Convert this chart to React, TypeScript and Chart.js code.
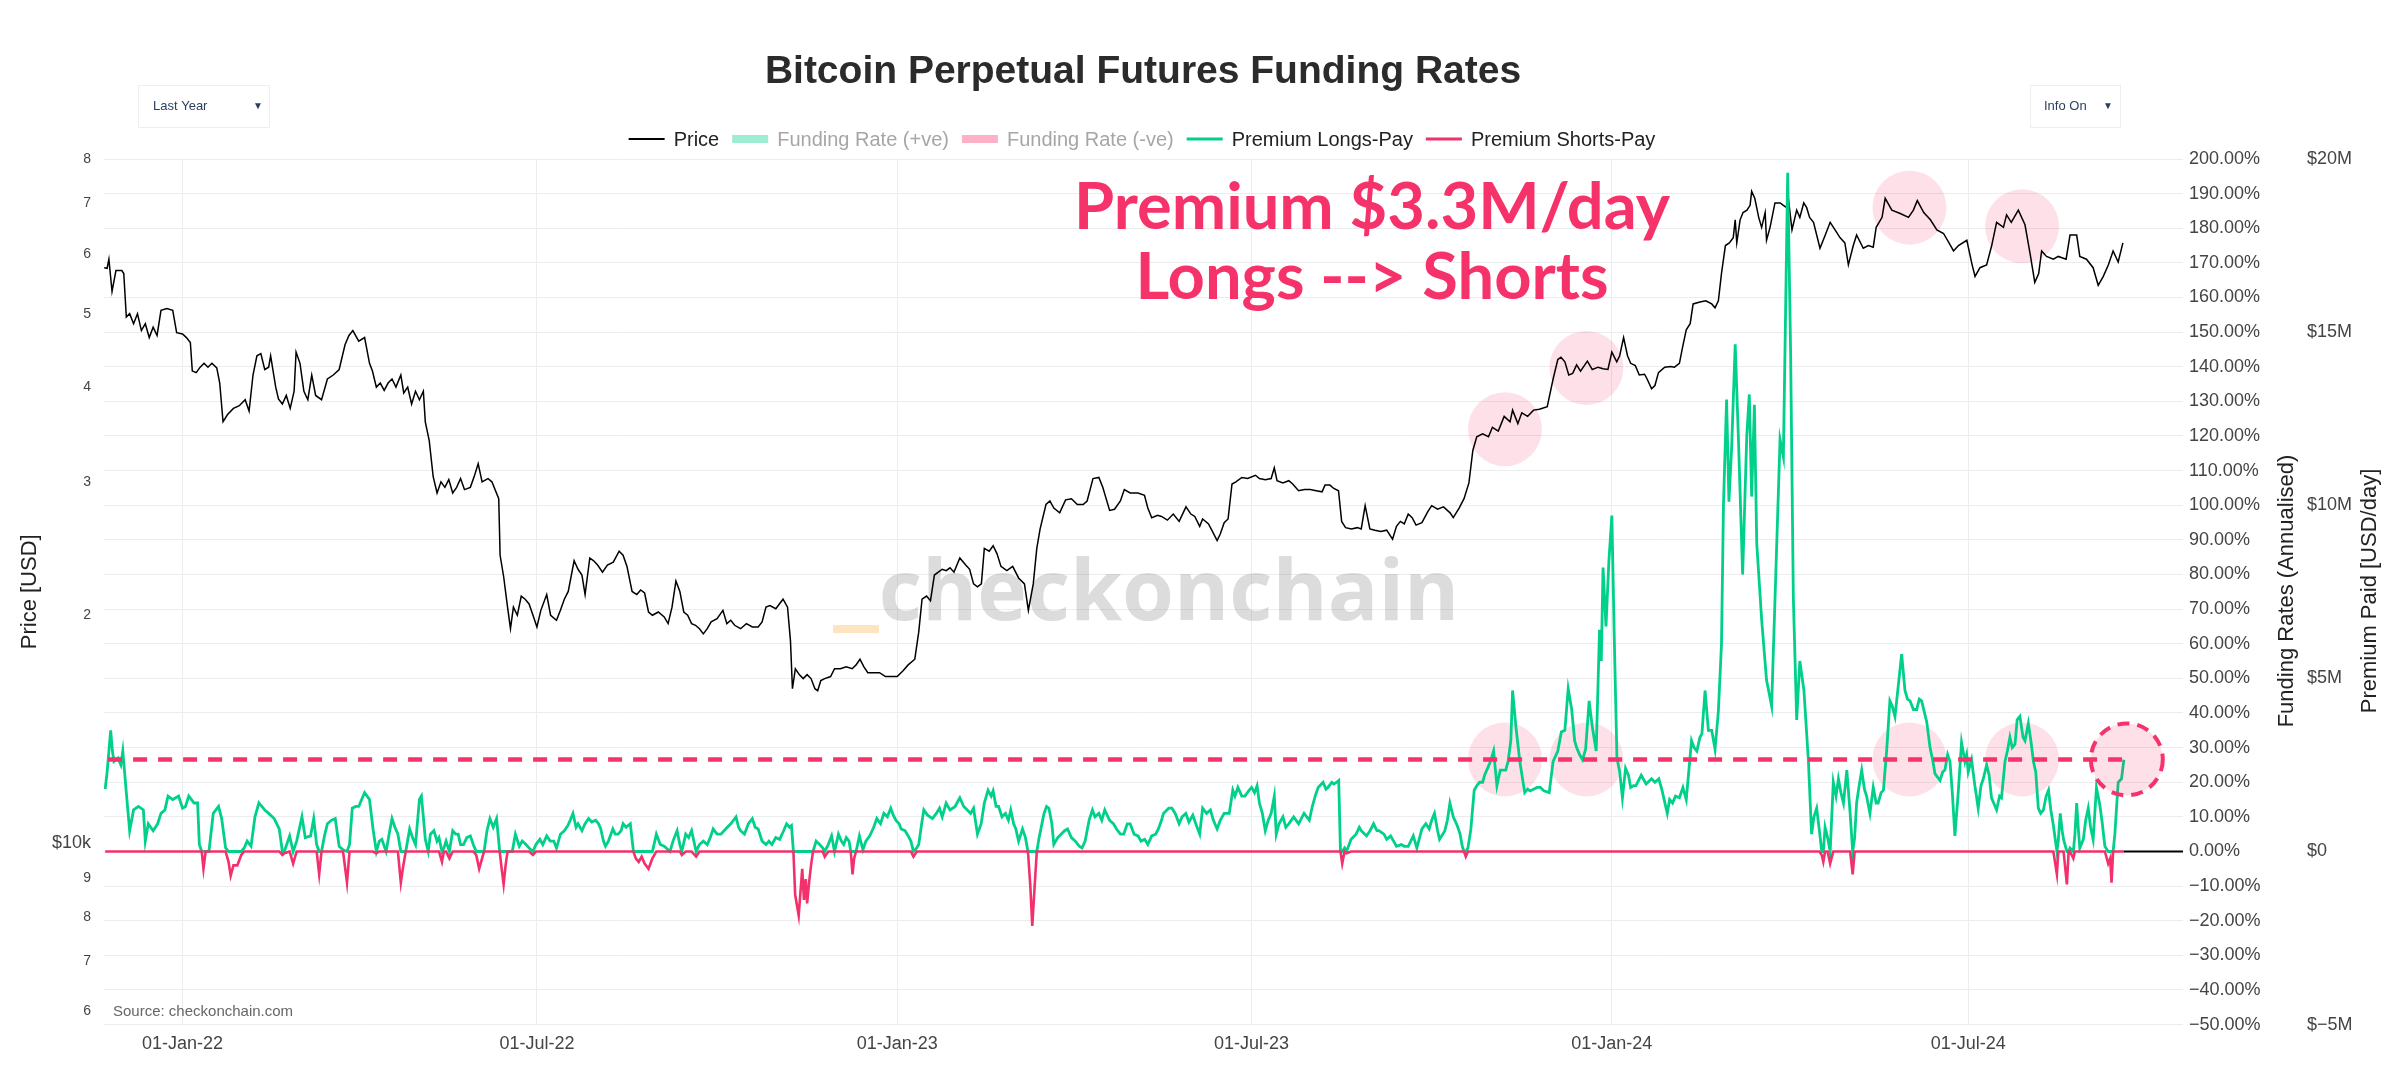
import React, { useEffect, useRef } from 'react';
import { Chart, registerables } from 'chart.js';

Chart.register(...registerables);

// ---------------- text ----------------
const TITLE = 'Bitcoin Perpetual Futures Funding Rates';
const SOURCE = 'Source: checkonchain.com';
const WATERMARK = 'checkonchain';
const CALLOUT = ['Premium $3.3M/day', 'Longs --> Shorts'];

// ---------------- x axis (days since 01-Jan-2022) ----------------
const X_MIN = -40.1;
const X_MAX = 1021.7;
const xTickDays = [0, 181, 365, 546, 730, 912];
const xTickLabels = ['01-Jan-22', '01-Jul-22', '01-Jan-23', '01-Jul-23', '01-Jan-24', '01-Jul-24'];

// ---------------- price axis (log) ----------------
const PRICE_MIN = 5766;
const PRICE_MAX = 80000;
const priceTicks = [6000, 7000, 8000, 9000, 10000, 20000, 30000, 40000, 50000, 60000, 70000, 80000];

// ---------------- right axes ----------------
const fundingTicksRange = [-50, 200];
const premiumRangeM = [-5, 20];

// ---------------- BTC price readings: [day, USD] ----------------
const priceReadings: [number, number][] = [
  [-40, 57500], [-38.5, 57400], [-37.6, 59000], [-36, 53500], [-34, 57000], [-31, 57000], [-30, 56500], [-28.7, 49500],
  [-27, 50000], [-25, 48500], [-23, 50000], [-21, 47500], [-19, 48500], [-17, 46500], [-15, 48000], [-13, 46800],
  [-11, 50500], [-8, 50800], [-5, 50500], [-3, 47200], [0, 47000], [2, 46500], [4, 45800], [5, 42000],
  [7, 41800], [9, 42500], [11, 43000], [13, 42500], [15, 43000], [17.5, 42400], [19, 40500], [20.7, 36000],
  [23, 36800], [26, 37500], [29, 37800], [32, 38500], [34, 37200], [36, 41500], [38, 44000], [40, 44300],
  [42, 42200], [44, 42500], [45, 44000], [47.6, 40000], [49, 38600], [51, 38000], [53, 39000], [55, 37500],
  [57, 39500], [58, 44500], [60, 43000], [62, 39500], [64, 38500], [66, 41500], [68, 39000], [71, 38500],
  [74, 41000], [77, 41500], [80, 42200], [83, 45500], [85, 46800], [87, 47500], [90, 46000], [93, 46500],
  [95.5, 43000], [97, 42000], [99, 40000], [101, 40500], [103, 39600], [105, 40500], [107, 41000], [109, 40000],
  [111.5, 41500], [113, 39300], [115, 40000], [117, 38000], [119, 39500], [121, 38500], [123, 39500], [124, 36000],
  [126, 34000], [128, 30500], [130, 29000], [132, 30000], [134, 29500], [136, 30200], [138, 29000], [140, 29500],
  [142, 30300], [144, 29300], [147, 29500], [149, 30500], [151, 31700], [153, 30000], [156, 30300], [158, 30000],
  [161.5, 28500], [162.2, 24000], [164, 22500], [166, 20500], [167.5, 19200], [169, 20500], [171, 20000], [173, 21200],
  [175, 21000], [177, 20700], [179, 20000], [181, 19300], [183, 20300], [186, 21300], [188, 20000], [191, 19700],
  [193, 20300], [195, 21000], [197, 21500], [200, 23600], [202, 23000], [204, 22600], [205.6, 21300], [208, 23800],
  [210, 23600], [212, 23300], [214.5, 22800], [217, 23300], [220, 23500], [223, 24300], [225, 24000], [227, 23200],
  [229.6, 21500], [232, 21300], [234, 21600], [236, 21400], [238, 20200], [240, 20000], [243, 20200], [246, 19900],
  [248, 19500], [250, 20500], [252, 22200], [254, 21500], [256, 20200], [258, 20000], [260, 19500], [262, 19400],
  [264, 19200], [266, 18900], [268, 19200], [270, 19600], [273, 19800], [276, 20300], [278, 19500], [280, 19700],
  [282, 19400], [285, 19200], [288, 19500], [291, 19300], [294, 19300], [296, 19600], [298, 20500], [300, 20600],
  [303, 20400], [306.7, 21000], [309, 20500], [310.5, 18500], [311.5, 16000], [313, 17000], [315, 16700], [317, 16500],
  [319, 16700], [321, 16500], [323, 16000], [324.4, 15900], [326, 16400], [328, 16500], [331, 16600], [333, 17000],
  [336, 17000], [339, 17100], [342, 17000], [344, 17200], [346, 17500], [348, 17100], [350, 16800], [353, 16800],
  [356, 16800], [359, 16600], [362, 16600], [365, 16600], [368, 16900], [370.6, 17200], [374, 17500], [376, 19000],
  [377.7, 21000], [380, 21200], [382, 20900], [384, 22600], [386, 22800], [388, 23000], [390, 22900], [392, 23100],
  [394, 22800], [397, 23800], [400, 23300], [402, 23000], [404, 22000], [406, 21800], [408, 22000], [409.5, 24500],
  [412, 24300], [414, 24700], [416, 24100], [418, 23200], [421, 22900], [424, 23200], [427, 22400], [430, 22000],
  [432, 20300], [434.5, 22000], [436.3, 24500], [438, 26000], [441, 28000], [443, 28300], [445, 27700], [448, 27300],
  [451, 28400], [454, 28500], [457, 28000], [460, 28000], [462, 28300], [465, 30300], [468, 30400], [470, 29500],
  [473.5, 27500], [476, 27600], [479, 28300], [481, 29300], [484, 29000], [488, 29000], [491.3, 28800], [493, 27700],
  [495, 26900], [498, 27100], [500, 27000], [503, 26700], [506, 27200], [509, 26600], [512.5, 27800], [515, 27200],
  [517, 27000], [519.5, 26200], [521, 26800], [524, 26400], [526, 25800], [528.4, 25100], [530, 25600], [532, 26500],
  [534, 26800], [536, 29800], [538, 30000], [541, 30400], [544, 30300], [548, 30600], [550, 30300], [553, 30200],
  [556, 30300], [557.6, 31300], [559, 30100], [562, 29900], [565, 30100], [567, 29800], [570, 29200], [573, 29300],
  [576, 29300], [579, 29200], [582, 29100], [583.5, 29700], [586, 29700], [588, 29400], [590.4, 29200], [592, 26600],
  [594, 26100], [597, 26000], [600, 26100], [602, 26000], [604, 27900], [606.4, 26000], [609, 25900], [612, 25800],
  [615, 25900], [618, 25200], [620, 26200], [622, 26600], [624, 26400], [626, 27200], [628, 26900], [630, 26300],
  [633, 26500], [636, 27400], [638, 27900], [641, 27600], [644, 27800], [647.4, 27300], [649, 26900], [652, 27700],
  [654.5, 28500], [657, 29900], [659, 33000], [661, 34400], [664, 34700], [667, 34400], [669, 35400], [672, 35000],
  [675, 36600], [678, 36000], [679.3, 37300], [682, 35800], [684, 37000], [687, 36600], [690, 37300], [693, 37400],
  [697, 37700], [700, 41000], [702.4, 43500], [704, 43800], [706, 43200], [708, 41500], [710, 41700], [712, 42800],
  [714, 42000], [717.5, 43300], [720, 42200], [723, 42500], [725.5, 42300], [728, 42200], [730, 44500], [732.5, 43200],
  [734, 44000], [736, 46500], [738, 44000], [739.6, 43000], [742, 42700], [744, 41500], [746.7, 41600], [748, 41000],
  [750.3, 39800], [752, 40200], [753.8, 41800], [757, 42500], [760, 42600], [762, 42500], [764.5, 43000], [766, 45000],
  [768, 47600], [770, 48500], [771.5, 51500], [775, 51800], [778, 52000], [781, 51500], [782.7, 50900], [784.4, 52000],
  [786, 56500], [788, 61500], [790, 62000], [792, 63000], [793, 66500], [793.8, 62000], [795.5, 66500], [797, 68000],
  [799, 68500], [800.6, 69500], [801.4, 72500], [803, 71000], [805, 67000], [806.5, 65000], [808.3, 68000], [809, 62500],
  [810.8, 65000], [813.3, 70000], [816, 70000], [817.6, 69500], [819.3, 69000], [820, 71500], [822, 64500], [824.4, 68500],
  [826, 67000], [828, 70000], [829.5, 69000], [831, 67000], [833, 66000], [836.3, 61000], [839, 63500], [841.5, 66000],
  [844, 64500], [846.5, 63000], [849, 62000], [850.8, 58000], [853.3, 61500], [855, 63500], [858.4, 61000], [861, 61500],
  [863.5, 61200], [865, 65000], [868, 67000], [869.6, 71000], [873, 68500], [877.3, 67800], [881.5, 67000], [884, 68500],
  [886, 70500], [889.3, 68000], [892.7, 66500], [896, 64500], [899.4, 63800], [903, 61500], [904.5, 60500], [907, 61500],
  [911.3, 62500], [914, 58000], [915.5, 56000], [918, 57500], [921.4, 58000], [924, 61500], [926.5, 66000], [930, 65000],
  [931.6, 67500], [934, 66000], [937.6, 68500], [941, 65500], [943.6, 60000], [946, 55000], [948, 56500], [949.5, 60500],
  [952, 59500], [955.5, 59000], [958, 59500], [962, 59000], [964, 63500], [967.4, 63500], [969, 59500], [972.4, 59000],
  [975.8, 57500], [978.4, 54500], [981, 56000], [983.6, 58000], [986, 60500], [988.6, 58500], [991, 62000],
];

// ---------------- premium paid ($M/day) readings: [day, value] ----------------
const premiumReadings: [number, number][] = [
  [-39.5, 1.8], [-38.5, 2.3], [-36.7, 3.5], [-35.8, 2.9], [-35, 2.6], [-33, 2.7], [-31.5, 2.5], [-30.5, 2.9],
  [-28.7, 1.7], [-27, 0.6], [-25, 1.2], [-22.5, 1.3], [-20, 1.2], [-19, 0.3], [-17.5, 0.8], [-15, 0.6],
  [-12.7, 0.8], [-11, 1.1], [-9, 1.2], [-7.4, 1.6], [-5, 1.5], [-2, 1.6], [0, 1.25], [1.5, 1.3],
  [3.2, 1.6], [5.9, 1.4], [7.7, 1.4], [8.6, 0.2], [9.8, 0], [10.7, -0.5], [11.8, 0], [13.5, 0],
  [15.7, 1.1], [18.4, 1.3], [20, 0.95], [22, 0.1], [23.5, -0.3], [24.6, -0.7], [26, -0.4], [28, -0.4],
  [30, -0.1], [31.5, 0.1], [33, 0.3], [35, 0.15], [37, 1.0], [39, 1.4], [40.5, 1.3], [42, 1.2],
  [44, 1.1], [46.8, 0.95], [49.4, 0.65], [51, -0.1], [52, -0.05], [54.7, 0.45], [56.5, -0.35], [58.3, 0.3],
  [61, 1.0], [62.7, 0.4], [65.4, 0.45], [67, 0.95], [68.5, 0.2], [69.8, -0.66], [71, 0], [72.5, 0.45],
  [74, 0.8], [76, 0.9], [78, 0.95], [80, 0.15], [82, 0.05], [84, -0.9], [85.3, 0.2], [86.7, 1.25],
  [88.5, 1.3], [90, 1.3], [91.5, 1.5], [93, 1.7], [95.5, 1.5], [97.3, 0.65], [99, -0.05], [100.5, 0.3],
  [101.8, 0.35], [104, 0], [105.5, 0.5], [107, 0.95], [108.5, 0.7], [110, 0.5], [111.5, -0.9], [112.5, -0.5],
  [114, 0], [116, 0.65], [117.5, 0.4], [119, 0.2], [121, 1.5], [122, 1.6], [123, 1.0], [124, 0.35],
  [125.5, 0], [126.6, 0.5], [128.4, 0.6], [130, 0.3], [131, 0.4], [132.5, -0.3], [133.5, 0.1], [134.6, 0.3],
  [136.3, -0.2], [138, 0.6], [139.5, 0.5], [140.8, 0.5], [142, 0.2], [143.5, 0.2], [145.2, 0.4], [147, 0.45],
  [148.5, 0.2], [150, -0.1], [151.5, -0.5], [153, -0.2], [154, 0], [155.5, 0.6], [157, 0.95], [158.7, 0.7],
  [160.4, 0.95], [162, 0], [163, -0.5], [164, -0.95], [165, -0.4], [166, 0], [168.4, 0], [170, 0.5],
  [172, 0.15], [173.5, 0.3], [175.4, 0.2], [177, 0.1], [179, -0.1], [180.5, 0.2], [182.5, 0.35], [184, 0.2],
  [186, 0.45], [187.8, 0.3], [189.6, 0.3], [191, 0.1], [193, 0.5], [195, 0.6], [196.8, 0.75], [198, 0.9],
  [199.4, 1.1], [201, 0.7], [202, 0.8], [204, 0.6], [205.6, 0.8], [207.4, 0.95], [209, 0.85], [211, 0.9],
  [212.5, 0.8], [213.6, 0.65], [215, 0.3], [216, 0.15], [217.5, 0.3], [219.8, 0.65], [221, 0.5], [222.5, 0.5],
  [224, 0.6], [225, 0.8], [226.5, 0.7], [228.7, 0.8], [230.3, 0], [231.5, -0.2], [233, -0.3], [234.5, -0.15],
  [236, -0.35], [238, -0.5], [240, -0.2], [242, 0.5], [244, 0.2], [246, 0.15], [249, 0], [250.5, 0.3],
  [252.6, 0.6], [254, 0.2], [255, -0.1], [257, 0.5], [258.5, 0.4], [260, 0.6], [262.3, -0.15], [264, 0.2],
  [266, 0.3], [268, 0.2], [269.5, 0.4], [271, 0.65], [273, 0.5], [275, 0.5], [277.4, 0.65], [280, 0.8],
  [282.7, 1.0], [284, 0.7], [285, 0.6], [287, 0.5], [289, 0.8], [291, 0.95], [292.5, 0.7], [294, 0.65],
  [296, 0.3], [298, 0.2], [299.5, 0.3], [301, 0.2], [303, 0.4], [305, 0.35], [307, 0.6], [308.5, 0.8],
  [310, 0.7], [311, 0.75], [312, 0], [312.9, -1.25], [314.7, -1.85], [316.5, -0.5], [317.4, -1.4], [318.3, -0.8],
  [319, -1.5], [320, -0.9], [321, -0.4], [322, 0], [323.6, 0.3], [325.4, 0.2], [327, 0.1], [328, -0.15],
  [329.8, 0.2], [331.5, 0.45], [333, 0], [335, 0.5], [336.5, 0.3], [337.7, 0.2], [339, 0.4], [340.4, 0.3],
  [341.3, 0], [342.2, -0.66], [343, -0.2], [344, 0], [345.7, 0.45], [347.5, 0.05], [349, 0.3], [351, 0.45],
  [353, 0.7], [354.6, 0.95], [356.5, 0.8], [358.2, 1.1], [360, 1.0], [361.7, 1.25], [363, 1.05], [364.4, 0.9],
  [366, 0.8], [367, 0.65], [369, 0.6], [370.6, 0.45], [372, 0.3], [373.3, -0.15], [375, 0.1], [376, 0.2],
  [377.5, 0.8], [378.6, 1.2], [380.5, 1.05], [383, 0.95], [385, 1.1], [386.6, 1.25], [388, 1.0], [390, 1.4],
  [392, 1.2], [394.6, 1.3], [396, 1.45], [397, 1.55], [399, 1.3], [400.8, 1.2], [402.5, 1.1], [404, 1.25],
  [406, 0.5], [407.9, 0.8], [409.5, 1.4], [411.4, 1.77], [413, 1.6], [414, 1.75], [415.5, 1.3], [416.8, 1.3],
  [418.5, 1.0], [420.3, 1.1], [421.8, 0.9], [423, 1.2], [424.5, 0.8], [425.6, 0.65], [427, 0.3], [429, 0.65],
  [430.5, 0.4], [431.8, 0], [433, -1.0], [434, -2.15], [435, -1.2], [436.3, 0], [437.5, 0.4], [440, 1.1],
  [441.3, 1.3], [442.5, 1.25], [444, 0.8], [445, 0.2], [447, 0.4], [448.7, 0.5], [450.5, 0.6], [452, 0.65],
  [454, 0.4], [456, 0.3], [458, 0.15], [459.4, 0.1], [461, 0.3], [463, 0.9], [464.7, 1.2], [466, 1.0],
  [468, 1.1], [469.5, 0.9], [471, 1.2], [473.5, 0.9], [475.5, 0.8], [477, 0.65], [479, 0.5], [480.7, 0.5],
  [482.5, 0.8], [484, 0.8], [486, 0.5], [488, 0.45], [489.5, 0.3], [491.4, 0.35], [493, 0.2], [495, 0.45],
  [497, 0.5], [498.4, 0.65], [500, 0.9], [501, 1.1], [503.7, 1.25], [505.3, 1.25], [507, 1.1], [509, 0.8],
  [510.5, 1.0], [512.4, 1.1], [514, 0.85], [516, 1.05], [517.5, 0.8], [519.5, 0.5], [521, 1.25], [523, 1.1],
  [525, 1.2], [526.5, 0.9], [528.4, 0.65], [530, 0.9], [532, 1.1], [534.6, 1.1], [536.4, 1.77], [537.5, 1.6],
  [539, 1.85], [541, 1.6], [542.6, 1.6], [544.5, 1.75], [546, 1.85], [547.5, 1.7], [548.8, 1.9], [550, 1.4],
  [551.5, 1.1], [553, 0.6], [554.5, 0.9], [556, 1.1], [557.6, 1.6], [558.6, 0.5], [560, 0.8], [562, 1.0],
  [563.5, 0.7], [565, 0.8], [567.5, 1.0], [570, 0.8], [572.8, 1.1], [575.5, 0.9], [577, 1.3], [578.5, 1.6],
  [580, 1.85], [582.5, 2.0], [584, 1.8], [585, 1.85], [587, 2.0], [588, 1.95], [589.5, 2.0], [590.5, 2.05],
  [591.4, 0], [592.3, -0.35], [593.5, 0.1], [594.5, -0.05], [596.8, 0.35], [599.4, 0.5], [601, 0.7], [602, 0.6],
  [604.7, 0.45], [606.5, 0.6], [608.3, 0.8], [610, 0.6], [611, 0.6], [613.6, 0.5], [615, 0.35], [617, 0.45],
  [620, 0.15], [622.5, 0.2], [624, 0.15], [626, 0.15], [628.6, 0.45], [630.4, 0.1], [633, 0.65], [635, 0.8],
  [636.7, 0.65], [638, 0.9], [639.4, 1.1], [641, 0.6], [642, 0.35], [644.7, 0.6], [646, 0.9], [647.3, 1.4],
  [649, 1.0], [651, 0.75], [652.5, 0.5], [653.6, 0.15], [654.5, 0], [655.4, -0.15], [656.5, 0.1], [658, 0.65],
  [659.7, 1.77], [661, 1.9], [662.5, 2.0], [664, 2.0], [665, 2.2], [666.5, 2.4], [668, 2.6], [669.6, 2.9],
  [671.3, 1.9], [673, 2.35], [675.8, 2.35], [677, 2.6], [678.4, 3.2], [679.3, 4.65], [681, 3.6], [683, 2.6],
  [685.5, 1.7], [687, 1.8], [688.2, 1.75], [690, 1.8], [691.8, 1.85], [693.5, 1.85], [695.3, 1.75], [698, 1.7],
  [700, 2.6], [702.4, 2.9], [704.2, 3.45], [706, 3.5], [707.7, 4.7], [709.5, 4.1], [711, 3.2], [712, 3.0],
  [713.5, 2.8], [715, 2.65], [716.6, 2.95], [718.4, 4.35], [720, 3.6], [722, 2.9], [723.7, 6.4], [724.6, 5.5],
  [725.5, 8.2], [727, 6.5], [728.5, 8.4], [730, 9.7], [731.3, 6.0], [732.6, 2.7], [734, 2.3], [735.4, 1.55],
  [737, 2.4], [738.5, 2.2], [739.6, 1.85], [741, 1.9], [742.3, 1.9], [745, 2.2], [747.5, 1.95], [750.3, 2.1],
  [752, 2.0], [754, 2.1], [755.6, 1.77], [758.3, 1.1], [759.5, 1.5], [761, 1.4], [762.5, 1.6], [764.5, 1.55],
  [766.3, 1.85], [768, 1.5], [770.7, 3.2], [772, 3.0], [773.4, 2.9], [775, 3.3], [776, 3.4], [777.6, 4.65],
  [779.3, 3.5], [781, 3.5], [782.7, 2.95], [784.4, 4.05], [786, 6.0], [787, 10.0], [788.6, 13.05], [789.8, 10.1],
  [791.2, 11.7], [793, 14.65], [794.6, 12.0], [796.8, 8.0], [798.9, 12.0], [800.2, 13.2], [801.4, 10.25], [802.8, 12.9],
  [804, 8.9], [806.5, 6.7], [809, 4.95], [811.6, 4.2], [814, 8.5], [815.9, 11.9], [817.6, 11.4], [819, 16.6],
  [819.8, 19.6], [821.3, 14.4], [822.7, 7.3], [824.4, 3.8], [826, 5.5], [828.1, 4.65], [830.4, 2.6], [832, 0.5],
  [833.2, 1.0], [834.6, 1.25], [836, 0.6], [837.2, -0.1], [838, -0.3], [838.9, 0.7], [840.2, 0.4], [841.5, -0.35],
  [843.1, 2.0], [844.5, 1.6], [845.7, 2.1], [847, 1.7], [848.3, 1.4], [850, 2.35], [851.7, 1.1], [853, -0.66],
  [854, 0.4], [855, 1.4], [856.3, 1.9], [857.6, 2.35], [859, 1.8], [860.1, 1.6], [861.8, 1.1], [863.5, 1.85],
  [865, 1.4], [866, 1.4], [867.5, 1.7], [868.7, 1.77], [870.4, 2.95], [872, 4.35], [873.2, 4.2], [874.6, 3.9],
  [876.3, 4.8], [878, 5.7], [879.7, 4.65], [881, 4.4], [882.3, 4.35], [884, 4.1], [885.7, 4.1], [887, 4.4],
  [888.2, 4.35], [890.8, 3.75], [892.5, 3.0], [894, 2.6], [895, 2.25], [897.6, 2.05], [899, 2.3], [900.1, 2.35],
  [901.5, 2.8], [902.7, 2.6], [904, 1.6], [905.2, 0.45], [906.9, 1.7], [908.6, 3.15], [910.3, 2.6], [911.2, 2.8],
  [912, 2.3], [913.7, 2.65], [915.4, 1.9], [917.1, 1.25], [918.5, 1.9], [919.7, 2.1], [921.4, 2.5], [922.7, 2.2],
  [923.9, 1.55], [925, 1.4], [926.5, 1.2], [928, 1.6], [929, 1.55], [930.8, 2.6], [932, 2.9], [933.3, 3.3],
  [934.5, 3.0], [935.9, 3.1], [937, 3.8], [938.4, 3.9], [940, 3.3], [941, 3.2], [942.7, 3.7], [944, 3.2],
  [945.3, 2.6], [946.5, 2.3], [947.8, 1.25], [949, 1.1], [950.4, 1.2], [951.8, 1.6], [953, 1.77], [954.2, 1.2],
  [955.5, 0.75], [957.3, -0.66], [958, 0.3], [959, 1.1], [960, 0.6], [960.7, 0.35], [962.4, -0.95], [963.3, 0],
  [964, 0.1], [965.7, -0.2], [966.5, 0.5], [967.4, 1.4], [968.3, 0.6], [969, 0.1], [970.8, 0.35], [972, 0.9],
  [973.3, 1.25], [974.5, 0.7], [975.8, 0.35], [977.5, 1.85], [979.2, 1.35], [980.5, 0.8], [981.8, 0.15], [983.5, -0.35],
  [984.5, -0.2], [985.2, -0.9], [986, 0], [986.9, 0.5], [988.6, 2.0], [990.3, 2.1], [991.5, 2.65],
];

// ---------------- annotations ----------------
const PREMIUM_REFERENCE_M = 2.66;
const highlightDays = [675.4, 717, 882, 939.5];
const highlightPrices = [35200, 42400, 69000, 65200];
const CURRENT_DAY = 993;
const DASH_START_DAY = -38;
const DASH_END_DAY = 991;

// ---------------- styles ----------------
const GREEN = '#00d08a';
const PINK = '#f2306b';
const ANNOT = '#f6326b';
const FONT = '"Liberation Sans", Arial, Helvetica, sans-serif';
const GRID = '#ececec';

const legendItems = [
  { label: 'Price', color: '#000000', lw: 2, text: '#222222' },
  { label: 'Funding Rate (+ve)', color: 'rgba(0,208,138,0.38)', lw: 8, text: '#a6a6a6' },
  { label: 'Funding Rate (-ve)', color: 'rgba(246,50,107,0.38)', lw: 8, text: '#a6a6a6' },
  { label: 'Premium Longs-Pay', color: GREEN, lw: 3, text: '#222222' },
  { label: 'Premium Shorts-Pay', color: PINK, lw: 3, text: '#222222' },
];

function vText(ctx: CanvasRenderingContext2D, text: string, x: number, y: number) {
  ctx.save();
  ctx.translate(x, y);
  ctx.rotate(-Math.PI / 2);
  ctx.textAlign = 'center';
  ctx.textBaseline = 'middle';
  ctx.fillText(text, 0, 0);
  ctx.restore();
}

function dropdown(ctx: CanvasRenderingContext2D, x: number, y: number, w: number, h: number, label: string, tx: number, ax: number) {
  ctx.save();
  ctx.fillStyle = '#ffffff';
  ctx.strokeStyle = '#eeeeee';
  ctx.lineWidth = 1;
  ctx.fillRect(x, y, w, h);
  ctx.strokeRect(x + 0.5, y + 0.5, w, h);
  ctx.fillStyle = '#2a3f5f';
  ctx.font = `13px ${FONT}`;
  ctx.textAlign = 'left';
  ctx.textBaseline = 'middle';
  ctx.fillText(label, tx, y + h / 2);
  ctx.font = `10px ${FONT}`;
  ctx.textAlign = 'center';
  ctx.fillText('\u25BC', ax, y + h / 2);
  ctx.restore();
}

const overlay = {
  id: 'overlay',
  beforeDatasetsDraw(chart: any) {
    const { ctx, scales } = chart;
    const x = scales.x, yp = scales.price, ym = scales.prem;
    ctx.save();
    ctx.font = `700 84px "Open Sans", ${FONT}`;
    ctx.fillStyle = 'rgba(140,140,140,0.3)';
    ctx.textAlign = 'center';
    ctx.textBaseline = 'alphabetic';
    ctx.fillText(WATERMARK, 1169, 620);
    ctx.fillStyle = '#fde5c2';
    ctx.fillRect(833, 625, 46, 8);
    ctx.fillStyle = 'rgba(246,50,107,0.15)';
    highlightDays.forEach((d, i) => {
      const cx = x.getPixelForValue(d);
      [yp.getPixelForValue(highlightPrices[i]), ym.getPixelForValue(PREMIUM_REFERENCE_M)].forEach((cy: number) => {
        ctx.beginPath();
        ctx.arc(cx, cy, 37, 0, Math.PI * 2);
        ctx.fill();
      });
    });
    ctx.restore();
  },
  afterDatasetsDraw(chart: any) {
    const { ctx, scales, chartArea } = chart;
    const x = scales.x, ym = scales.prem;
    const yT = ym.getPixelForValue(PREMIUM_REFERENCE_M);
    ctx.save();
    ctx.strokeStyle = ANNOT;
    ctx.lineWidth = 4.5;
    ctx.setLineDash([14, 11]);
    ctx.beginPath();
    ctx.moveTo(x.getPixelForValue(DASH_START_DAY), yT);
    ctx.lineTo(x.getPixelForValue(DASH_END_DAY), yT);
    ctx.stroke();
    ctx.setLineDash([12, 8]);
    ctx.lineWidth = 4;
    ctx.fillStyle = 'rgba(246,50,107,0.15)';
    ctx.beginPath();
    ctx.arc(x.getPixelForValue(CURRENT_DAY), yT, 36, 0, Math.PI * 2);
    ctx.fill();
    ctx.stroke();
    ctx.setLineDash([]);
    const lastDay = premiumReadings[premiumReadings.length - 1][0];
    const y0 = ym.getPixelForValue(0);
    ctx.strokeStyle = '#000000';
    ctx.lineWidth = 2;
    ctx.beginPath();
    ctx.moveTo(x.getPixelForValue(lastDay), y0);
    ctx.lineTo(chartArea.right, y0);
    ctx.stroke();
    ctx.restore();
  },
  afterDraw(chart: any) {
    const { ctx } = chart;
    ctx.save();
    ctx.font = `bold 39px ${FONT}`;
    ctx.fillStyle = '#2b2b2b';
    ctx.textAlign = 'center';
    ctx.textBaseline = 'alphabetic';
    ctx.fillText(TITLE, 1143, 83);
    ctx.font = `20px ${FONT}`;
    const sw = 36, gap = 9, itemGap = 13;
    const widths = legendItems.map((it) => ctx.measureText(it.label).width);
    const total = widths.reduce((a, b) => a + b, 0) + legendItems.length * (sw + gap) + (legendItems.length - 1) * itemGap;
    let lx = 1142 - total / 2;
    const ly = 139;
    legendItems.forEach((it, i) => {
      ctx.strokeStyle = it.color;
      ctx.lineWidth = it.lw;
      ctx.beginPath();
      ctx.moveTo(lx, ly);
      ctx.lineTo(lx + sw, ly);
      ctx.stroke();
      ctx.fillStyle = it.text;
      ctx.textAlign = 'left';
      ctx.textBaseline = 'middle';
      ctx.fillText(it.label, lx + sw + gap, ly + 1);
      lx += sw + gap + widths[i] + itemGap;
    });
    dropdown(ctx, 138, 85, 131, 42, 'Last Year', 153, 258);
    dropdown(ctx, 2030, 85, 90, 42, 'Info On', 2044, 2108);
    ctx.font = `22px ${FONT}`;
    ctx.fillStyle = '#222222';
    vText(ctx, 'Funding Rates (Annualised)', 2287, 591);
    vText(ctx, 'Premium Paid [USD/day]', 2370, 591);
    ctx.font = `15px ${FONT}`;
    ctx.fillStyle = '#666666';
    ctx.textAlign = 'left';
    ctx.textBaseline = 'middle';
    ctx.fillText(SOURCE, 113, 1012);
    ctx.font = `700 65px Lato, "Open Sans", ${FONT}`;
    ctx.fillStyle = ANNOT;
    ctx.textAlign = 'center';
    ctx.textBaseline = 'alphabetic';
    ctx.fillText(CALLOUT[0], 1372, 229);
    ctx.fillText(CALLOUT[1], 1372, 299);
    ctx.restore();
  },
};

function fmtPct(v: number) {
  return (v < 0 ? '\u2212' : '') + Math.abs(v).toFixed(2) + '%';
}
function fmtPrem(v: number) {
  if (v === 0) return '$0';
  return '$' + (v < 0 ? '\u2212' : '') + Math.abs(v) + 'M';
}
function fmtPrice(v: number) {
  if (v === 10000) return '$10k';
  return String(Math.round(v < 10000 ? v / 1000 : v / 10000));
}

export default function App() {
  const ref = useRef<HTMLCanvasElement>(null);
  useEffect(() => {
    document.body.style.margin = '0';
    document.body.style.overflow = 'hidden';
    Chart.defaults.font.family = FONT;
    const priceData = priceReadings.map(([d, p]) => ({ x: d, y: p }));
    const longs = premiumReadings.map(([d, v]) => ({ x: d, y: Math.max(v, 0) }));
    const shorts = premiumReadings.map(([d, v]) => ({ x: d, y: Math.min(v, 0) }));
    const chart = new Chart(ref.current as HTMLCanvasElement, {
      type: 'line',
      data: {
        datasets: [
          { label: 'Price', data: priceData, yAxisID: 'price', borderColor: '#000000', borderWidth: 1.5, pointRadius: 0, order: 3 },
          { label: 'Premium Longs-Pay', data: longs, yAxisID: 'prem', borderColor: GREEN, borderWidth: 2.8, pointRadius: 0, order: 2 },
          { label: 'Premium Shorts-Pay', data: shorts, yAxisID: 'prem', borderColor: PINK, borderWidth: 2.6, pointRadius: 0, order: 1 },
        ],
      },
      options: {
        animation: false,
        responsive: false,
        devicePixelRatio: 1,
        events: [],
        layout: { padding: { top: 159, left: 0, right: 0, bottom: 0 } },
        plugins: { legend: { display: false }, title: { display: false }, tooltip: { enabled: false } },
        scales: {
          x: {
            type: 'linear',
            position: 'bottom',
            min: X_MIN,
            max: X_MAX,
            afterBuildTicks: (s: any) => { s.ticks = xTickDays.map((v) => ({ value: v })); },
            afterFit: (s: any) => { s.height = 46.4; },
            ticks: {
              callback: (v: any) => { const i = xTickDays.indexOf(Number(v)); return i >= 0 ? xTickLabels[i] : ''; },
              font: { size: 18 },
              color: '#444444',
              padding: 9,
              autoSkip: false,
              maxRotation: 0,
            },
            grid: { color: GRID, drawTicks: false },
            border: { display: false },
          },
          price: {
            type: 'logarithmic',
            position: 'left',
            min: PRICE_MIN,
            max: PRICE_MAX,
            afterBuildTicks: (s: any) => { s.ticks = priceTicks.map((v) => ({ value: v })); },
            afterFit: (s: any) => { s.width = 104; },
            ticks: {
              callback: (v: any) => fmtPrice(Number(v)),
              font: (c: any) => ({ size: c.tick && c.tick.value === 10000 ? 18 : 14 }),
              color: '#444444',
              padding: 5,
              autoSkip: false,
            },
            grid: { display: false },
            border: { display: false },
            title: { display: true, text: 'Price [USD]', font: { size: 22 }, color: '#222222', padding: { top: 17, bottom: 0 } },
          },
          fund: {
            type: 'linear',
            position: 'right',
            min: fundingTicksRange[0],
            max: fundingTicksRange[1],
            afterFit: (s: any) => { s.width = 113; },
            ticks: { stepSize: 10, callback: (v: any) => fmtPct(Number(v)), font: { size: 18 }, color: '#444444', padding: 6, autoSkip: false },
            grid: { color: GRID, drawTicks: false },
            border: { display: false },
          },
          prem: {
            type: 'linear',
            position: 'right',
            min: premiumRangeM[0],
            max: premiumRangeM[1],
            afterFit: (s: any) => { s.width = 104; },
            ticks: { stepSize: 5, callback: (v: any) => fmtPrem(Number(v)), font: { size: 18 }, color: '#444444', padding: 3, autoSkip: false },
            grid: { display: false },
            border: { display: false },
          },
        },
      } as any,
      plugins: [overlay as any],
    });
    return () => chart.destroy();
  }, []);
  return (
    <div style={{ width: 2400, height: 1071, position: 'relative', background: '#ffffff' }}>
      <canvas ref={ref} width={2400} height={1071} style={{ display: 'block', width: 2400, height: 1071 }} />
    </div>
  );
}
